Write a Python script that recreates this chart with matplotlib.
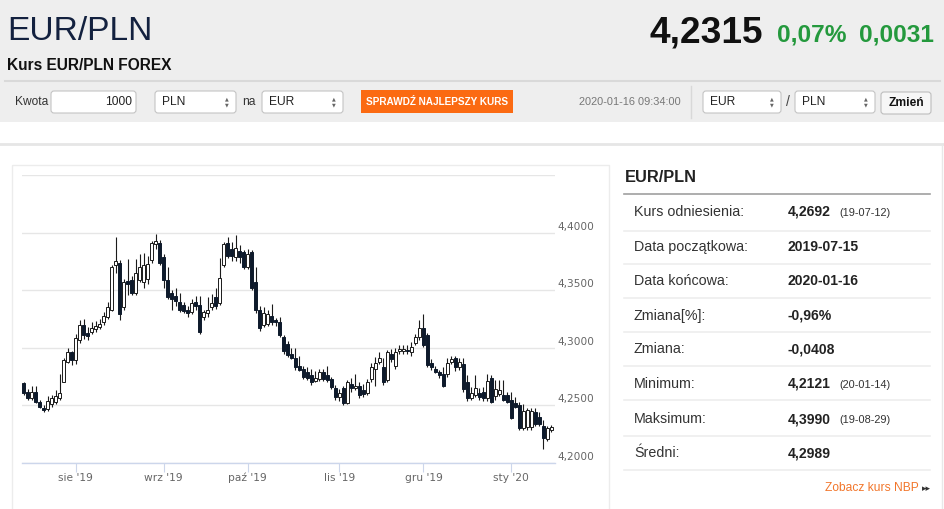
import matplotlib
matplotlib.use('Agg')
import matplotlib.pyplot as plt
from matplotlib.patches import Rectangle, FancyBboxPatch
import numpy as np
import pandas as pd

# ---------------- data ----------------
open_ = [4.2695, 4.262, 4.256, 4.262, 4.253, 4.248, 4.247, 4.251, 4.253, 4.256,
         4.2705, 4.288, 4.296, 4.289, 4.307, 4.320, 4.313, 4.314, 4.316, 4.318,
         4.3225, 4.327, 4.333, 4.372, 4.374, 4.335, 4.358, 4.359, 4.348, 4.359,
         4.357, 4.360, 4.376, 4.390, 4.391, 4.379, 4.359, 4.348, 4.345, 4.340,
         4.337, 4.333, 4.331, 4.340, 4.337, 4.327, 4.330, 4.335, 4.344, 4.339,
         4.372, 4.391, 4.386, 4.379, 4.384, 4.383, 4.370, 4.383, 4.357, 4.333,
         4.320, 4.321, 4.328, 4.324, 4.322, 4.309, 4.303, 4.295, 4.291, 4.284,
         4.282, 4.279, 4.276, 4.271, 4.273, 4.279, 4.276, 4.273, 4.265, 4.257,
         4.265, 4.252, 4.269, 4.265, 4.267, 4.263, 4.261, 4.273, 4.282, 4.288,
         4.283, 4.272, 4.295, 4.284, 4.297, 4.297, 4.298, 4.296, 4.304, 4.309,
         4.317, 4.311, 4.287, 4.282, 4.279, 4.277, 4.277, 4.288, 4.291, 4.283,
         4.286, 4.270, 4.256, 4.259, 4.261, 4.262, 4.256, 4.274, 4.258, 4.260,
         4.259, 4.259, 4.255, 4.252, 4.250, 4.230, 4.231, 4.231, 4.244, 4.240,
         4.232, 4.221, 4.229]
high = [4.2705, 4.264, 4.267, 4.267, 4.255, 4.250, 4.258, 4.259, 4.263, 4.277,
        4.291, 4.300, 4.297, 4.312, 4.324, 4.325, 4.318, 4.322, 4.323, 4.325,
        4.331, 4.340, 4.372, 4.3965, 4.376, 4.360, 4.377, 4.362, 4.377, 4.381,
        4.382, 4.380, 4.393, 4.399, 4.394, 4.381, 4.370, 4.350, 4.352, 4.348,
        4.340, 4.336, 4.342, 4.345, 4.345, 4.333, 4.344, 4.347, 4.352, 4.378,
        4.392, 4.396, 4.392, 4.398, 4.389, 4.385, 4.386, 4.385, 4.370, 4.336,
        4.335, 4.333, 4.338, 4.326, 4.327, 4.311, 4.306, 4.300, 4.300, 4.293,
        4.284, 4.283, 4.282, 4.280, 4.282, 4.282, 4.284, 4.275, 4.268, 4.264,
        4.267, 4.272, 4.274, 4.277, 4.270, 4.269, 4.273, 4.287, 4.292, 4.296,
        4.291, 4.298, 4.299, 4.300, 4.302, 4.302, 4.302, 4.305, 4.312, 4.324,
        4.329, 4.313, 4.290, 4.284, 4.281, 4.283, 4.291, 4.293, 4.293, 4.291,
        4.291, 4.276, 4.266, 4.276, 4.265, 4.266, 4.277, 4.276, 4.272, 4.272,
        4.272, 4.262, 4.262, 4.257, 4.253, 4.251, 4.248, 4.248, 4.248, 4.244,
        4.237, 4.232, 4.233]
low = [4.259, 4.255, 4.255, 4.252, 4.248, 4.244, 4.245, 4.249, 4.251, 4.255,
       4.270, 4.287, 4.285, 4.286, 4.304, 4.308, 4.307, 4.312, 4.314, 4.316,
       4.320, 4.325, 4.332, 4.365, 4.324, 4.333, 4.346, 4.346, 4.346, 4.357,
       4.352, 4.355, 4.374, 4.386, 4.372, 4.352, 4.342, 4.333, 4.336, 4.331,
       4.330, 4.327, 4.329, 4.333, 4.312, 4.324, 4.327, 4.333, 4.334, 4.337,
       4.370, 4.378, 4.375, 4.375, 4.374, 4.368, 4.368, 4.350, 4.330, 4.315,
       4.318, 4.319, 4.320, 4.319, 4.309, 4.295, 4.292, 4.290, 4.281, 4.280,
       4.273, 4.272, 4.268, 4.270, 4.271, 4.271, 4.270, 4.264, 4.255, 4.254,
       4.250, 4.251, 4.262, 4.263, 4.256, 4.257, 4.259, 4.270, 4.267, 4.286,
       4.268, 4.270, 4.288, 4.282, 4.295, 4.295, 4.295, 4.293, 4.302, 4.307,
       4.301, 4.283, 4.281, 4.278, 4.274, 4.266, 4.275, 4.286, 4.280, 4.281,
       4.262, 4.254, 4.255, 4.257, 4.255, 4.254, 4.254, 4.252, 4.255, 4.258,
       4.254, 4.252, 4.238, 4.248, 4.229, 4.229, 4.229, 4.229, 4.232, 4.232,
       4.212, 4.219, 4.227]
close = [4.261, 4.2565, 4.262, 4.253, 4.249, 4.246, 4.254, 4.256, 4.258, 4.261,
         4.289, 4.296, 4.289, 4.3085, 4.320, 4.311, 4.310, 4.317, 4.319, 4.321,
         4.328, 4.335, 4.370, 4.375, 4.329, 4.357, 4.355, 4.348, 4.365, 4.370,
         4.372, 4.373, 4.391, 4.393, 4.374, 4.359, 4.344, 4.342, 4.341, 4.333,
         4.332, 4.330, 4.339, 4.336, 4.314, 4.331, 4.333, 4.339, 4.336, 4.361,
         4.390, 4.380, 4.380, 4.387, 4.379, 4.370, 4.381, 4.352, 4.333, 4.317,
         4.330, 4.329, 4.322, 4.322, 4.311, 4.297, 4.294, 4.291, 4.283, 4.281,
         4.275, 4.274, 4.270, 4.274, 4.279, 4.273, 4.272, 4.266, 4.257, 4.261,
         4.252, 4.270, 4.265, 4.267, 4.259, 4.260, 4.270, 4.283, 4.287, 4.291,
         4.270, 4.296, 4.290, 4.296, 4.299, 4.299, 4.297, 4.301, 4.309, 4.317,
         4.302, 4.285, 4.283, 4.279, 4.276, 4.267, 4.287, 4.290, 4.283, 4.288,
         4.264, 4.256, 4.261, 4.265, 4.257, 4.256, 4.271, 4.253, 4.264, 4.263,
         4.255, 4.253, 4.239, 4.249, 4.230, 4.245, 4.246, 4.245, 4.234, 4.234,
         4.222, 4.230, 4.2315]
dates = pd.bdate_range('2019-07-15', '2020-01-16').drop(pd.Timestamp('2020-01-01'))
month_labels = ["sie '19", "wrz '19", "paź '19", "lis '19", "gru '19", "sty '20"]
y_ticks = [4.20, 4.25, 4.30, 4.35, 4.40]
y_grid = [4.20, 4.25, 4.30, 4.35, 4.40, 4.45]

panel_labels = ['Kurs odniesienia:', 'Data początkowa:', 'Data końcowa:', 'Zmiana[%]:',
                'Zmiana:', 'Minimum:', 'Maksimum:', 'Średni:']
panel_values = ['4,2692', '2019-07-15', '2020-01-16', '-0,96%', '-0,0408',
                '4,2121', '4,3990', '4,2989']
panel_dates = ['(19-07-12)', '', '', '', '', '(20-01-14)', '(19-08-29)', '']

# ---------------- figure ----------------
plt.rcParams['font.family'] = ['Liberation Sans', 'DejaVu Sans']
W, H = 945, 509
fig = plt.figure(figsize=(W / 100, H / 100), dpi=100)


def pt(px):
    return px * 0.72


page = fig.add_axes([0, 0, 1, 1])
page.set_xlim(0, W)
page.set_ylim(H, 0)
page.axis('off')

# header background
page.add_patch(Rectangle((0, 0), W, 122, facecolor='#eeeeee', edgecolor='none'))
page.plot([5, 940], [81, 81], color='#d9d9d9', lw=1.5)
page.plot([0, W], [143.5, 143.5], color='#e6e6e6', lw=2)
page.plot([942, 942], [145, H], color='#e8e8e8', lw=1)

page.text(7, 40, 'EUR/PLN', fontsize=pt(33.5), color='#13213f', va='baseline', ha='left')
page.text(649, 42, '4,2315', fontsize=pt(37), color='#111111', fontweight='bold', va='baseline')
page.text(777, 41, '0,07%', fontsize=pt(24.5), color='#24993d', fontweight='bold', va='baseline')
page.text(859, 41, '0,0031', fontsize=pt(24.5), color='#24993d', fontweight='bold', va='baseline')
page.text(7, 70, 'Kurs EUR/PLN FOREX', fontsize=pt(15.5), color='#111111', fontweight='bold',
          va='baseline')

# control row
cy = 102
page.text(15, cy, 'Kwota', fontsize=pt(12), color='#333333', va='center')


def box(x0, x1, y0=91, y1=113, fc='white', ec='#c4c4c4'):
    page.add_patch(FancyBboxPatch((x0, y0), x1 - x0, y1 - y0,
                                  boxstyle='round,pad=0,rounding_size=3',
                                  facecolor=fc, edgecolor=ec, lw=0.8))


def select(x0, x1, label):
    box(x0, x1)
    page.text(x0 + 7, cy, label, fontsize=pt(12), color='#222222', va='center')
    page.text(x1 - 9, cy - 3, '▲', fontsize=3.5, color='#666666', ha='center', va='center',
              family='DejaVu Sans')
    page.text(x1 - 9, cy + 3, '▼', fontsize=3.5, color='#666666', ha='center', va='center',
              family='DejaVu Sans')


box(51, 136)
page.text(132, cy, '1000', fontsize=pt(12), color='#222222', va='center', ha='right')
select(155, 236, 'PLN')
page.text(242, cy, 'na', fontsize=pt(12), color='#333333', va='center')
select(262, 343, 'EUR')
page.add_patch(Rectangle((361, 90), 152, 23, facecolor='#fb6a12', edgecolor='none'))
page.text(437, cy, 'SPRAWDŹ NAJLEPSZY KURS', fontsize=pt(10), color='white', fontweight='bold',
          ha='center', va='center')
page.text(681, cy, '2020-01-16 09:34:00', fontsize=pt(11), color='#777777', ha='right', va='center')
page.plot([691, 691], [86, 118], color='#d8d8d8', lw=1)
select(703, 781, 'EUR')
page.text(788, cy, '/', fontsize=pt(14), color='#444444', ha='center', va='center')
select(795, 875, 'PLN')
box(881, 931, 92, 114, fc='#f6f6f6', ec='#bdbdbd')
page.text(906, cy + 1, 'Zmień', fontsize=pt(12), color='#111111', fontweight='bold',
          ha='center', va='center')

# chart container
page.add_patch(Rectangle((12, 165), 597, 350, facecolor='none', edgecolor='#ececec', lw=1))

# right panel
page.text(625, 178, 'EUR/PLN', fontsize=pt(16.4), color='#222222', fontweight='bold', va='center')
page.plot([624, 930], [194, 194], color='#a0a0a0', lw=1.2)
row_y = [212, 247, 281, 316, 349, 384, 419, 453]
sep_y = [230.5, 264, 298, 332, 366, 400, 436, 470]
for lab, val, dt, ry, sy in zip(panel_labels, panel_values, panel_dates, row_y, sep_y):
    page.text(634, ry, lab, fontsize=pt(14.2), color='#333333', va='center')
    page.text(788, ry, val, fontsize=pt(14), color='#222222', fontweight='bold', va='center')
    if dt:
        page.text(839, ry + 1, dt, fontsize=pt(11), color='#333333', va='center')
    page.plot([624, 930], [sy, sy], color='#eeeeee', lw=1.2)
page.text(825, 488, 'Zobacz kurs NBP', fontsize=pt(12), color='#f2762b', va='center')
page.text(922, 489, '▸▸', fontsize=pt(9), color='#333333', va='center', family='DejaVu Sans')

# ---------------- candlestick chart ----------------
ax = fig.add_axes([22 / W, (H - 463) / H, (555 - 22) / W, (463 - 175) / H])
ax.set_facecolor('none')
n = len(close)
idx = np.arange(n)
o = np.array(open_)
c = np.array(close)
hi = np.array(high)
lo = np.array(low)
up = c >= o
bottoms = np.minimum(o, c)
heights = np.maximum(np.abs(c - o), 0.0007)

ax.vlines(idx, lo, hi, color='#1b1b1b', lw=0.8, zorder=2)
ax.bar(idx[up], heights[up], bottom=bottoms[up], width=0.68, color='white',
       edgecolor='#1b1b1b', linewidth=0.7, zorder=3)
ax.bar(idx[~up], heights[~up], bottom=bottoms[~up], width=0.68, color='#0e1a2b',
       edgecolor='#0e1a2b', linewidth=0.7, zorder=3)

ax.set_xlim(-0.4, 132.9)
ax.set_ylim(4.20, 4.45)
ax.set_yticks(y_grid)
ax.yaxis.grid(True, color='#e6e6e6', lw=1)
ax.set_axisbelow(True)
ax.tick_params(axis='y', length=0, labelleft=False)
for s in ['top', 'left', 'right']:
    ax.spines[s].set_visible(False)
ax.spines['bottom'].set_color('#ccd6eb')
ax.spines['bottom'].set_linewidth(1)
ax.spines['bottom'].set_zorder(4)

months = pd.Series(dates.month)
tick_idx = [i for i in range(1, n) if months[i] != months[i - 1]]
ax.set_xticks(tick_idx)
ax.set_xticklabels(month_labels[:len(tick_idx)], fontsize=pt(10.6), color='#666666',
                   family='DejaVu Sans')
ax.tick_params(axis='x', length=6.5, width=0.8, color='#ccd6eb', pad=0.5)

for v in y_ticks:
    ax.annotate(f'{v:.4f}'.replace('.', ','), xy=(1, v), xycoords=('axes fraction', 'data'),
                xytext=(2, 6), textcoords='offset pixels', ha='left', va='center',
                fontsize=pt(10.5), color='#666666', family='DejaVu Sans')

fig.savefig('out.png', dpi=100)
